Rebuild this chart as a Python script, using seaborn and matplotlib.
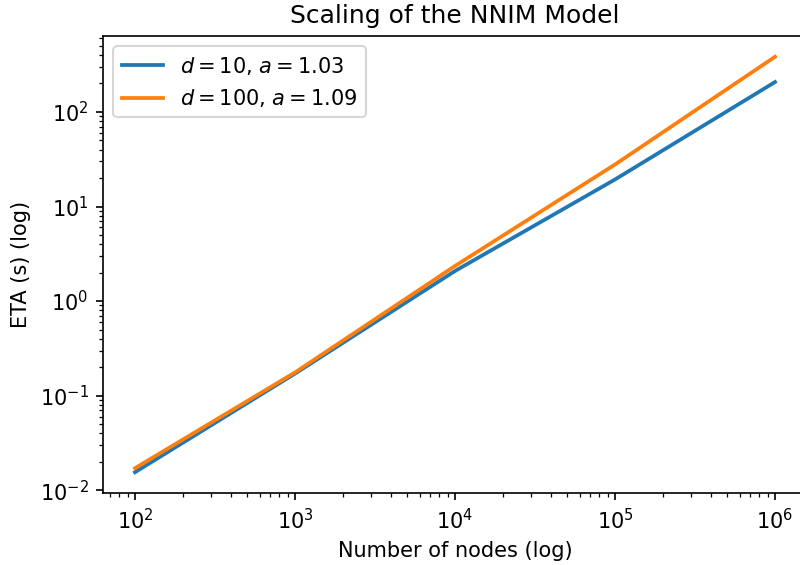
import matplotlib
matplotlib.use("Agg")
import matplotlib.pyplot as plt
import seaborn as sns
import pandas as pd

nodes = [1e2, 1e3, 1e4, 1e5, 1e6]
eta_d10 = [0.0155, 0.171, 2.08, 19.3, 207]
eta_d100 = [0.0171, 0.176, 2.35, 27.8, 383]
labels = [r"$d = 10$, $a = 1.03$", r"$d = 100$, $a = 1.09$"]

df = pd.DataFrame({
    "nodes": nodes * 2,
    "eta": eta_d10 + eta_d100,
    "series": [labels[0]] * len(nodes) + [labels[1]] * len(nodes),
})

DPI = 150
fig = plt.figure(figsize=(800 / DPI, 565 / DPI), dpi=DPI)
ax = fig.add_axes([103 / 800, 1 - 493 / 565, (807 - 103) / 800, (493 - 36) / 565])
sns.lineplot(data=df, x="nodes", y="eta", hue="series", ax=ax,
             palette=["#1f77b4", "#ff7f0e"], linewidth=1.8)
ax.set_xscale("log")
ax.set_yscale("log")
ax.set_xlabel("Number of nodes (log)")
ax.set_ylabel("ETA (s) (log)")
ax.set_title("Scaling of the NNIM Model")
ax.legend(title=None, loc="upper left")
fig.savefig("out.png", dpi=DPI)
